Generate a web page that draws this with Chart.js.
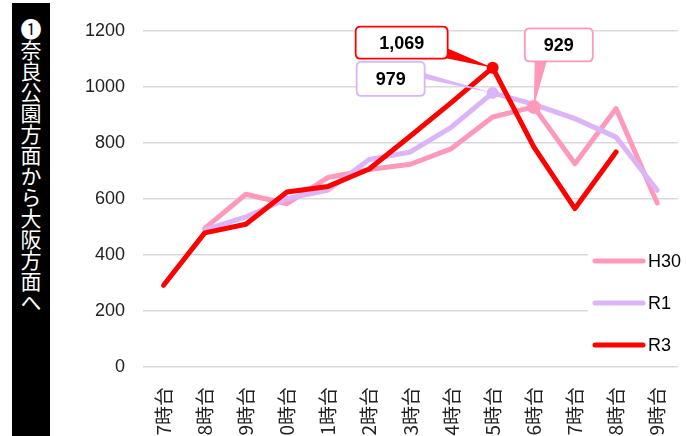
<!DOCTYPE html>
<html>
<head>
<meta charset="utf-8">
<script src="https://cdn.jsdelivr.net/npm/chart.js@4.4.1/dist/chart.umd.min.js"></script>
<style>
  html, body { margin: 0; padding: 0; width: 686px; height: 436px; overflow: hidden; background: #fff; }
  #chart { position: absolute; left: 0; top: 0; }
  #title {
    position: absolute; left: 12px; top: 3px; width: 38px; height: 445px;
    background: #000; color: #fff;
    writing-mode: vertical-rl;
    font-family: "Noto Sans CJK JP", sans-serif; font-size: 21px; line-height: 38px;
    padding-top: 16px; box-sizing: border-box;
  }
</style>
</head>
<body>
<canvas id="chart" width="692" height="452"></canvas>
<div id="title">❶奈良公園方面から大阪方面へ</div>
<script>
var labels = ["7時台", "8時台", "9時台", "10時台", "11時台", "12時台", "13時台",
              "14時台", "15時台", "16時台", "17時台", "18時台", "19時台"];

var h30 = [null, 495, 617, 583, 677, 705, 724, 780, 893, 929, 726, 923, 586];
var r1  = [null, 490, 536, 601, 632, 741, 768, 857, 979, 938, 887, 821, 631];
var r3  = [292, 479, 510, 625, 645, 707, 825, 945, 1069, 786, 566, 768, null];

var yTicks = [0, 200, 400, 600, 800, 1000, 1200];

var colors = { H30: "#ff99bb", R1: "#dcb4f8", R3: "#ff0000" };

// callouts: dataset index, point index, box offset from point, box size, wedge base
var callouts = [
  { ds: 0, idx: 9, r: 7, dx: 25, dy: -62, w: 68, h: 33, side: "bottom", b1: -24, b2: -11 },
  { ds: 1, idx: 8, r: 6, dx: -102, dy: -14, w: 68, h: 34, side: "right", b1: -7, b2: -1 },
  { ds: 2, idx: 8, r: 6, dx: -91, dy: -25, w: 92, h: 32, side: "right", b1: 4, b2: 15 }
];

function roundRect(c, x, y, w, h, r) {
  c.beginPath();
  c.moveTo(x + r, y);
  c.lineTo(x + w - r, y); c.quadraticCurveTo(x + w, y, x + w, y + r);
  c.lineTo(x + w, y + h - r); c.quadraticCurveTo(x + w, y + h, x + w - r, y + h);
  c.lineTo(x + r, y + h); c.quadraticCurveTo(x, y + h, x, y + h - r);
  c.lineTo(x, y + r); c.quadraticCurveTo(x, y, x + r, y);
  c.closePath();
}

var calloutPlugin = {
  id: "callouts",
  afterDatasetsDraw: function(chart) {
    var c = chart.ctx;
    callouts.forEach(function(co) {
      var ds = chart.data.datasets[co.ds];
      var pt = chart.getDatasetMeta(co.ds).data[co.idx];
      var cx = pt.x + co.dx, cy = pt.y + co.dy;
      var x0 = cx - co.w / 2, y0 = cy - co.h / 2;
      c.save();
      c.fillStyle = ds.borderColor;
      c.beginPath();
      c.arc(pt.x, pt.y, co.r, 0, Math.PI * 2);
      c.fill();
      c.beginPath();
      if (co.side === "right") {
        c.moveTo(x0 + co.w - 4, cy + co.b1);
        c.lineTo(pt.x, pt.y);
        c.lineTo(x0 + co.w - 4, cy + co.b2);
      } else {
        c.moveTo(cx + co.b1, y0 + co.h - 4);
        c.lineTo(pt.x, pt.y);
        c.lineTo(cx + co.b2, y0 + co.h - 4);
      }
      c.closePath();
      c.fill();
      roundRect(c, x0, y0, co.w, co.h, 5);
      c.fillStyle = "#fff";
      c.fill();
      c.lineWidth = 1.8;
      c.strokeStyle = ds.borderColor;
      c.stroke();
      c.fillStyle = "#000";
      c.font = "bold 18px 'Liberation Sans', sans-serif";
      c.textAlign = "center";
      c.textBaseline = "middle";
      c.fillText(ds.data[co.idx].toLocaleString("en-US"), cx, cy + 1);
      c.restore();
    });
  },
  afterDraw: function(chart) {
    var c = chart.ctx;
    c.save();
    c.fillStyle = "#fff";
    c.fillRect(588, 238, 110, 124);
    chart.data.datasets.forEach(function(ds, i) {
      var y = 261 + i * 42;
      c.strokeStyle = ds.borderColor;
      c.lineWidth = 5;
      c.lineCap = "round";
      c.beginPath();
      c.moveTo(595, y);
      c.lineTo(643, y);
      c.stroke();
      c.fillStyle = "#000";
      c.font = "18px 'Liberation Sans', sans-serif";
      c.textBaseline = "middle";
      c.fillText(ds.label, 648, y + 1);
    });
    c.restore();
  }
};

function lineSet(label, data, order) {
  return {
    label: label,
    data: data,
    borderColor: colors[label],
    backgroundColor: colors[label],
    borderWidth: 5,
    tension: 0,
    borderCapStyle: "round",
    borderJoinStyle: "round",
    pointRadius: 0,
    pointHoverRadius: 0,
    spanGaps: false,
    order: order
  };
}

var ctx = document.getElementById("chart").getContext("2d");
var chart = new Chart(ctx, {
  type: "line",
  data: {
    labels: labels,
    datasets: [
      lineSet("H30", h30, 2),
      lineSet("R1", r1, 1),
      lineSet("R3", r3, 0)
    ]
  },
  options: {
    responsive: false,
    devicePixelRatio: 1,
    animation: false,
    layout: { padding: { top: 31, left: 0, right: 0, bottom: 0 } },
    plugins: { legend: { display: false }, tooltip: { enabled: false } },
    scales: {
      x: {
        offset: true,
        grid: { display: false },
        border: { display: false },
        afterFit: function(scale) { scale.height = 85; },
        ticks: {
          autoSkip: false,
          minRotation: 90,
          maxRotation: 90,
          padding: 12,
          color: "#222",
          font: { family: "'Noto Sans CJK JP', sans-serif", size: 19 }
        }
      },
      y: {
        min: 0,
        max: 1200,
        afterFit: function(scale) { scale.width = 143; },
        afterBuildTicks: function(scale) {
          scale.ticks = yTicks.map(function(v) { return { value: v }; });
        },
        grid: { color: "#d9d9d9", lineWidth: 1.5, drawTicks: false },
        border: { display: false },
        ticks: {
          padding: 18,
          color: "#222",
          font: { family: "'Liberation Sans', sans-serif", size: 18 },
          callback: function(v) { return String(v); }
        }
      }
    }
  },
  plugins: [calloutPlugin]
});
</script>
</body>
</html>
